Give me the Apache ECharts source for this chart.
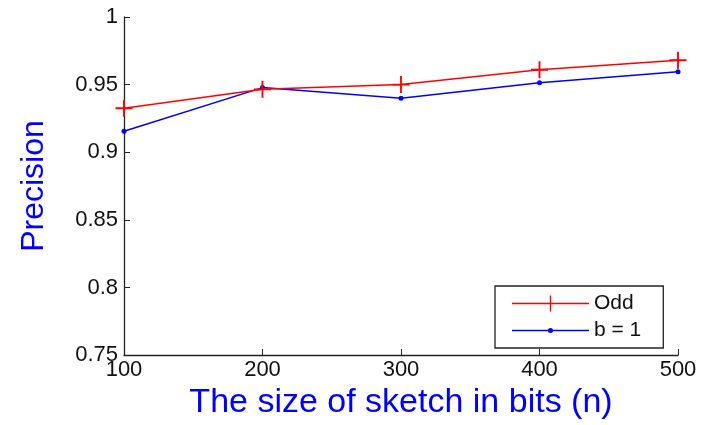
<!DOCTYPE html>
<html>
<head>
<meta charset="utf-8">
<script src="https://cdn.jsdelivr.net/npm/echarts@6/dist/echarts.min.js"></script>
<style>
  html, body { margin: 0; padding: 0; background: #fff; }
  #chart { width: 703px; height: 425px; }
</style>
</head>
<body>
<div id="chart"></div>
<script>
var sketchBits = [100, 200, 300, 400, 500];
var oddPrecision = [0.9325, 0.9465, 0.9500, 0.9610, 0.9680];
var b1Precision = [0.9155, 0.9478, 0.9400, 0.9514, 0.9595];

function pairs(xs, ys) {
    return xs.map(function (x, i) { return [x, ys[i]]; });
}

var plusSymbol = 'path://M0,4.45H4.45V0H5.55V4.45H10V5.55H5.55V10H4.45V5.55H0Z';
// legend icons: line with marker in the middle, on a 77x16 box
var oddIcon = 'path://M0,0H0.01V0.01Z M0,7.3H37.8V0H39.2V7.3H77V8.7H39.2V16H37.8V8.7H0Z';
var b1Icon = 'path://M0,0H0.01V0.01Z M76.99,15.99H77V16Z M0,7.3H77V8.7H0Z M41,8A2.5,2.5,0,1,1,36,8A2.5,2.5,0,1,1,41,8Z';
var font = 'Liberation Sans, Arial, Helvetica, sans-serif';

var chart = echarts.init(document.getElementById('chart'));

var option = {
    animation: false,
    grid: {
        left: 124,
        right: 25,
        top: 17,
        bottom: 67
    },
    legend: {
        orient: 'vertical',
        left: 495,
        top: 286,
        padding: [7, 22, 7, 17],
        itemGap: 6,
        itemWidth: 77,
        itemHeight: 16,
        borderColor: '#222',
        borderWidth: 1.3,
        backgroundColor: '#fff',
        textStyle: { fontFamily: font, fontSize: 21, color: '#111' },
        data: [
            { name: 'Odd', icon: oddIcon },
            { name: 'b = 1', icon: b1Icon }
        ]
    },
    xAxis: {
        type: 'value',
        min: 100,
        max: 500,
        interval: 100,
        name: 'The size of sketch in bits (n)',
        nameLocation: 'middle',
        nameGap: 27,
        nameTextStyle: { fontFamily: font, fontSize: 34, color: '#0000ff' },
        axisLine: { lineStyle: { color: '#222', width: 1.3 } },
        axisTick: { inside: true, length: 6, lineStyle: { color: '#222' } },
        axisLabel: { fontFamily: font, fontSize: 22, color: '#111', margin: 4 },
        splitLine: { show: false }
    },
    yAxis: {
        type: 'value',
        min: 0.75,
        max: 1,
        interval: 0.05,
        name: 'Precision',
        nameLocation: 'middle',
        nameGap: 74,
        nameTextStyle: { fontFamily: font, fontSize: 32, color: '#0000ff' },
        axisLine: { show: true, lineStyle: { color: '#222', width: 1.3 } },
        axisTick: { show: true, inside: true, length: 6, lineStyle: { color: '#222' } },
        axisLabel: { fontFamily: font, fontSize: 22, color: '#111', margin: 6 },
        splitLine: { show: false }
    },
    series: [
        {
            name: 'Odd',
            type: 'line',
            data: pairs(sketchBits, oddPrecision),
            symbol: plusSymbol,
            symbolSize: 17,
            itemStyle: { color: '#ff0000' },
            lineStyle: { color: '#ff0000', width: 1.5 },
            z: 3
        },
        {
            name: 'b = 1',
            type: 'line',
            data: pairs(sketchBits, b1Precision),
            symbol: 'circle',
            symbolSize: 5,
            itemStyle: { color: '#0000ff' },
            lineStyle: { color: '#0000ff', width: 1.5 },
            z: 2
        }
    ]
};

chart.setOption(option);

window.addEventListener('resize', function () {
    chart.resize();
});
</script>
</body>
</html>
